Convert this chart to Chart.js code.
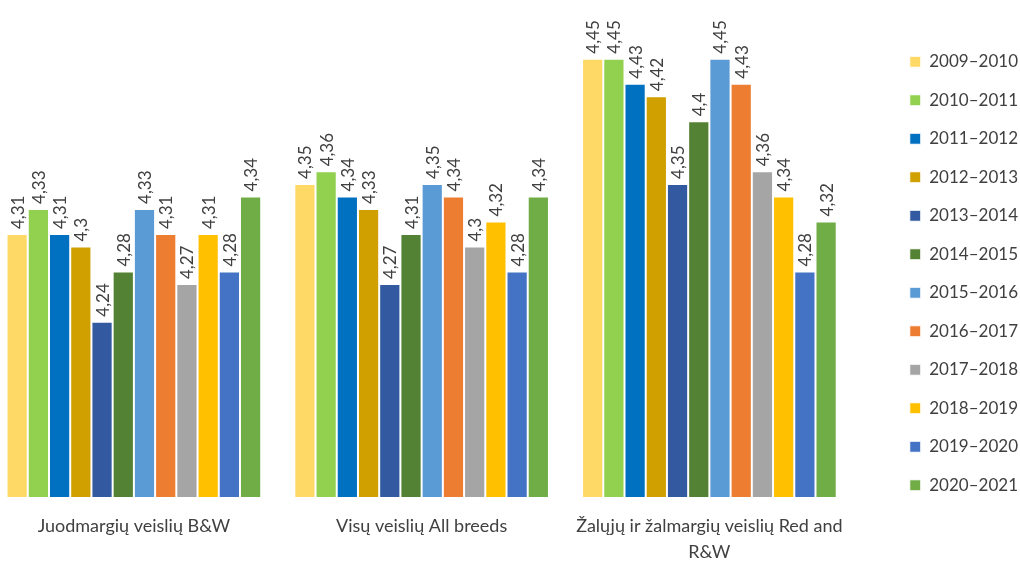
<!DOCTYPE html>
<html>
<head>
<meta charset="utf-8">
<script src="https://cdn.jsdelivr.net/npm/chart.js@4"></script>
<style>
  html, body { margin: 0; padding: 0; background: #fff; overflow: hidden; }
  #wrap { width: 1040px; height: 575px; position: relative; margin-left: -10px; margin-top: -14px; }
</style>
</head>
<body>
<div id="wrap"><canvas id="milkChart"></canvas></div>
<script>
// categories (breeds)
const breeds = [
    'Juodmargių veislių B&W',
    'Visų veislių All breeds',
    ['Žalųjų ir žalmargių veislių Red and', 'R&W']
];

// seasons and their values per breed
const seasons = ['2009–2010', '2010–2011', '2011–2012', '2012–2013', '2013–2014', '2014–2015',
                 '2015–2016', '2016–2017', '2017–2018', '2018–2019', '2019–2020', '2020–2021'];
const bwValues = [4.31, 4.33, 4.31, 4.30, 4.24, 4.28, 4.33, 4.31, 4.27, 4.31, 4.28, 4.34];
const allValues = [4.35, 4.36, 4.34, 4.33, 4.27, 4.31, 4.35, 4.34, 4.30, 4.32, 4.28, 4.34];
const redValues = [4.45, 4.45, 4.43, 4.42, 4.35, 4.40, 4.45, 4.43, 4.36, 4.34, 4.28, 4.32];

const colors = ['#FFD966', '#92D050', '#0070C0', '#D09F00', '#335AA0', '#548235',
                '#5B9BD5', '#ED7D31', '#A5A5A5', '#FFC000', '#4472C4', '#70AD47'];

const FONT = 'Lato, "Open Sans", sans-serif';

const datasets = seasons.map((s, i) => ({
    label: s,
    data: [bwValues[i], allValues[i], redValues[i]],
    backgroundColor: colors[i],
    borderColor: '#ffffff',
    borderWidth: 1,
    barPercentage: 1,
    categoryPercentage: 0.885
}));

// vertical value labels above the bars
const valueLabels = {
    id: 'valueLabels',
    afterDatasetsDraw(chart) {
        const ctx = chart.ctx;
        ctx.save();
        ctx.font = '17px ' + FONT;
        ctx.fillStyle = '#404040';
        ctx.textAlign = 'left';
        ctx.textBaseline = 'middle';
        chart.data.datasets.forEach((ds, i) => {
            chart.getDatasetMeta(i).data.forEach((bar, j) => {
                ctx.save();
                ctx.translate(bar.x + 1, bar.y - 5);
                ctx.rotate(-Math.PI / 2);
                ctx.fillText(String(ds.data[j]).replace('.', ','), 0, 0);
                ctx.restore();
            });
        });
        ctx.restore();
    }
};

new Chart(document.getElementById('milkChart'), {
    type: 'bar',
    data: { labels: breeds, datasets: datasets },
    plugins: [valueLabels],
    options: {
        responsive: true,
        maintainAspectRatio: false,
        animation: false,
        layout: { padding: { left: 0, top: 0, right: 2, bottom: 0 } },
        plugins: {
            tooltip: { enabled: false },
            legend: {
                position: 'right',
                labels: {
                    boxWidth: 11,
                    boxHeight: 11,
                    padding: 21.5,
                    color: '#404040',
                    font: { family: FONT, size: 17 }
                }
            }
        },
        scales: {
            x: {
                grid: { display: false },
                border: { display: false },
                afterFit: (scale) => { scale.height = 64; },
                ticks: {
                    color: '#404040',
                    padding: 8,
                    maxRotation: 0,
                    font: { family: FONT, size: 18, lineHeight: 1.45 }
                }
            },
            y: {
                position: 'right',
                min: 4.1,
                max: 4.508,
                grid: { display: false },
                border: { display: false },
                ticks: { display: false },
                afterFit: (scale) => { scale.width = 35; }
            }
        }
    }
});
</script>
</body>
</html>
